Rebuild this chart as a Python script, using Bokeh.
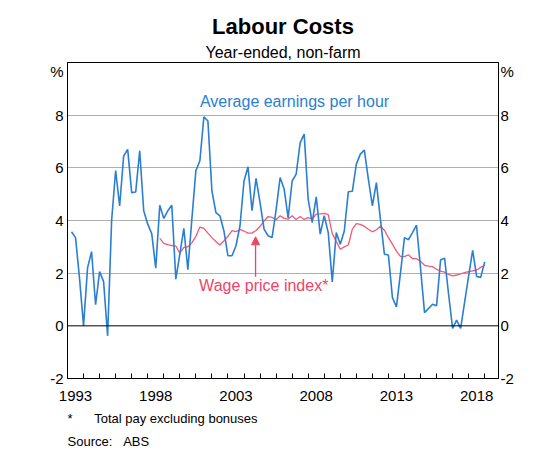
from bokeh.plotting import figure
from bokeh.models import FixedTicker, LinearAxis, Range1d, Span, Label, Arrow, NormalHead, Title
from bokeh.embed import file_html
from bokeh.resources import INLINE

# ---- data (quarterly, year-ended % change) ----
start_year = 1993  # first observation: March quarter 1993
avg_earnings = [
    3.57, 3.35, 1.8, 0.0, 2.2, 2.82, 0.8, 2.06, 1.68, -0.38,
    4.0, 5.9, 4.55, 6.45, 6.7, 5.06, 5.08, 6.65, 4.37, 3.86,
    3.5, 2.19, 4.58, 4.08, 4.37, 4.58, 1.77, 2.72, 3.7, 2.13,
    4.05, 5.89, 6.27, 7.94, 7.78, 5.13, 4.3, 4.18, 3.6, 2.66,
    2.66, 3.04, 3.8, 5.5, 6.04, 4.37, 5.6, 4.68, 3.67, 3.42,
    3.35, 4.4, 5.63, 5.2, 4.1, 5.5, 5.76, 6.96, 7.28, 4.8,
    3.92, 4.9, 3.48, 4.18, 3.54, 1.67, 3.54, 3.1, 3.6, 5.09,
    5.11, 6.14, 6.52, 6.67, 5.57, 4.56, 5.44, 4.05, 2.72, 2.69,
    1.07, 0.72, 2.0, 3.35, 3.27, 3.54, 3.82, 2.2, 0.5, 0.66,
    0.82, 0.76, 2.5, 2.57, 1.2, -0.1, 0.22, -0.1, 0.9, 1.9,
    2.87, 1.87, 1.84, 2.43,
]
wpi_offset = 22  # WPI begins September quarter 1998
wage_price_index = [
    3.32, 3.13, 3.08, 3.05, 3.03, 2.76, 2.98, 3.0,
    3.15, 3.4, 3.75, 3.7, 3.52, 3.35, 3.2, 3.07, 3.23, 3.4,
    3.62, 3.58, 3.66, 3.6, 3.52, 3.52, 3.62, 3.78, 3.98, 4.15,
    4.12, 4.03, 4.18, 4.08, 4.05, 4.18, 4.04, 4.15, 4.04, 4.11,
    4.05, 4.24, 4.25, 4.27, 4.22, 3.5, 3.2, 2.91, 3.0, 3.07,
    3.67, 3.88, 3.85, 3.78, 3.67, 3.57, 3.65, 3.78, 3.63, 3.35,
    3.1, 2.84, 2.64, 2.63, 2.7, 2.55, 2.55, 2.45, 2.3, 2.27,
    2.25, 2.15, 2.08, 2.04, 1.95, 1.9, 1.93, 1.97, 2.02, 2.06,
    2.09, 2.12, 2.22, 2.3,
]
year_labels = ["1993", "1998", "2003", "2008", "2013", "2018"]
y_tick_values = [-2, 0, 2, 4, 6, 8]
y_tick_labels = ["-2", "0", "2", "4", "6", "8"]
unit_label = "%"
unit_pos = 9.65
grid_levels = [2, 4, 6, 8]

x_ae = [start_year + 0.25 * (i + 1) for i in range(len(avg_earnings))]
x_wpi = [start_year + 0.25 * (i + 1 + wpi_offset) for i in range(len(wage_price_index))]

FONT = "Liberation Sans"
BLUE = "#2a7fd2"
RED = "#ee4468"
PINK = "#f05a78"
NB = "\u00a0"

p = figure(width=532, height=452, x_range=Range1d(1993, 2019.86), y_range=Range1d(-2, 10),
           output_backend="svg", toolbar_location=None, title=None,
           min_border_left=67, min_border_right=34, min_border_top=62, min_border_bottom=74)
p.background_fill_color = "white"
p.border_fill_color = "white"
p.outline_line_color = "black"
p.outline_line_width = 1
p.outline_line_alpha = 1

# x axis: year labels centred in the year, ticks at year boundaries
xa = p.xaxis[0]
xa.ticker = FixedTicker(ticks=[int(l) + 0.5 for l in year_labels],
                        minor_ticks=list(range(1994, 2020)))
xa.major_label_overrides = {int(l) + 0.5: l for l in year_labels}
xa.major_tick_in = 0
xa.major_tick_out = 0
xa.minor_tick_in = 5
xa.minor_tick_out = 0
xa.minor_tick_line_color = "black"
xa.axis_line_color = "black"
xa.major_label_text_font = FONT
xa.major_label_text_font_size = "15px"
xa.major_label_text_color = "black"
xa.major_label_standoff = 12

def style_y(ax, standoff):
    ax.ticker = FixedTicker(ticks=y_tick_values + [unit_pos])
    overrides = {v: t for v, t in zip(y_tick_values, y_tick_labels)}
    overrides[unit_pos] = unit_label
    ax.major_label_overrides = overrides
    ax.major_tick_in = 0
    ax.major_tick_out = 0
    ax.minor_tick_in = 0
    ax.minor_tick_out = 0
    ax.axis_line_color = "black"
    ax.major_label_text_font = FONT
    ax.major_label_text_font_size = "15px"
    ax.major_label_text_color = "black"
    ax.major_label_standoff = standoff

style_y(p.yaxis[0], 4)
ra = LinearAxis()
style_y(ra, 2)
p.add_layout(ra, "right")

p.xgrid.visible = False
p.ygrid.ticker = FixedTicker(ticks=grid_levels)
p.ygrid.grid_line_color = "#b0b0b0"
p.ygrid.grid_line_width = 1

p.add_layout(Span(location=0, dimension="width", line_color="black", line_width=1))

p.line(x_wpi, wage_price_index, line_color=PINK, line_width=1.3)
p.line(x_ae, avg_earnings, line_color=BLUE, line_width=1.6)

def lab(x, y, text, size, color):
    p.add_layout(Label(x=x, y=y, text=text, text_align="center", text_baseline="middle",
                       text_font=FONT, text_font_size=size, text_color=color))

lab(2007.15, 8.51, "Average earnings per hour", "16px", BLUE)
lab(2005.23, 1.52, "Wage price index*", "16px", RED)

p.add_layout(Arrow(end=NormalHead(size=8, fill_color=RED, line_color=RED),
                   x_start=2004.72, y_start=1.86, x_end=2004.72, y_end=3.38,
                   line_color=RED, line_width=1.3))

# headings (first added sits closest to the frame)
p.add_layout(Title(text="Year-ended, non-farm", align="center", text_font=FONT,
                   text_font_size="16px", text_font_style="normal", text_color="black",
                   standoff=4), "above")
p.add_layout(Title(text="Labour Costs", align="center", text_font=FONT,
                   text_font_size="22px", text_font_style="bold", text_color="black",
                   standoff=1), "above")

# notes below
p.add_layout(Title(text="*" + NB * 6 + "Total pay excluding bonuses", align="left",
                   text_font=FONT, text_font_size="13px", text_font_style="normal",
                   text_color="black", standoff=11), "below")
p.add_layout(Title(text="Source:" + NB * 3 + "ABS", align="left",
                   text_font=FONT, text_font_size="13px", text_font_style="normal",
                   text_color="black", standoff=0), "below")

open("out.html", "w").write(file_html(p, INLINE))
